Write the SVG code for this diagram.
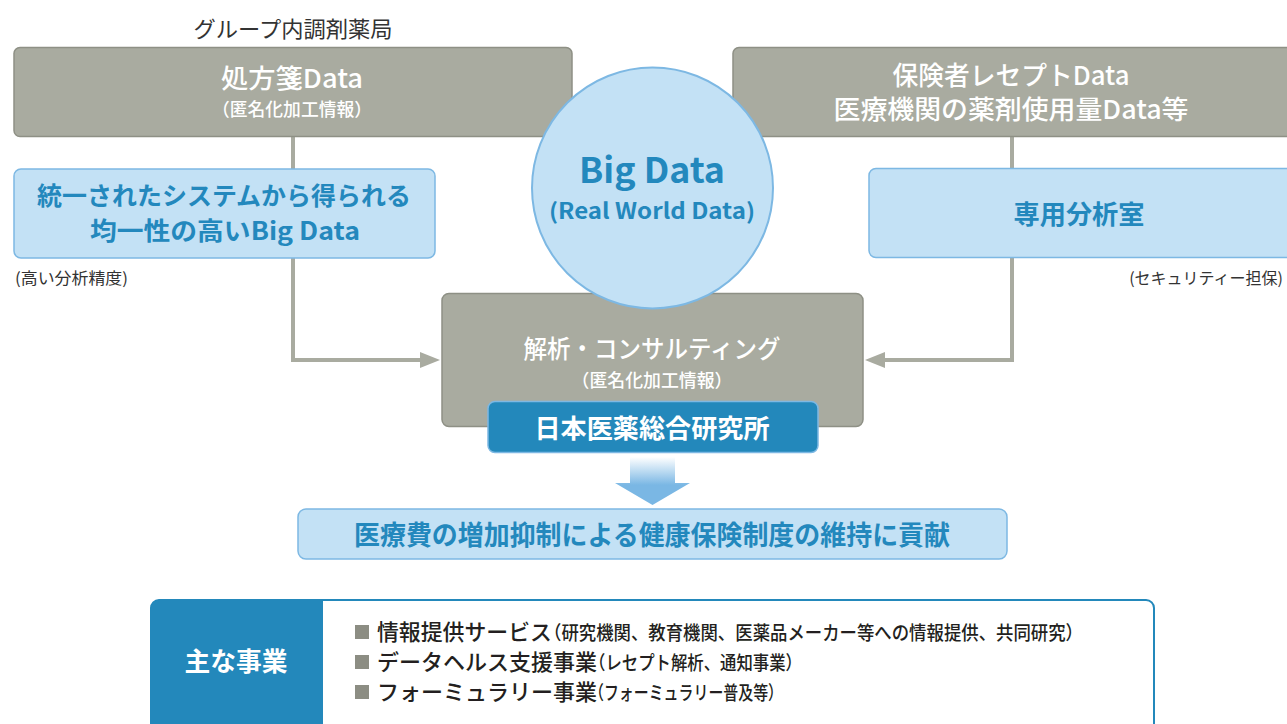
<svg xmlns="http://www.w3.org/2000/svg" width="1287" height="724" viewBox="0 0 1287 724">
<style>
text{font-family:"Noto Sans CJK JP","Noto Sans",sans-serif;}
.gray{fill:#a9aba0;stroke:#8e9085;stroke-width:1.5;}
.lb{fill:#c3e1f5;stroke:#7db8e3;stroke-width:1.5;}
.db{fill:#2388bb;stroke:#7db8e3;stroke-width:1.5;}
.wt{fill:#ffffff;font-weight:500;text-anchor:middle;}
.bt{fill:#2388bd;font-weight:700;text-anchor:middle;}
.note{fill:#333333;font-size:16px;}
.conn{fill:none;stroke:#a9aba0;stroke-width:4;}
.item{fill:#231f20;font-size:22px;font-weight:500;}
.sub{font-size:19px;}
</style>
<defs>
<marker id="ah" viewBox="0 0 20 16" refX="5" refY="8" markerWidth="20" markerHeight="16" markerUnits="userSpaceOnUse" orient="auto">
<path d="M0,0 L20,8 L0,16 Z" fill="#a9aba0"/>
</marker>
<linearGradient id="ag" x1="0" y1="457" x2="0" y2="485" gradientUnits="userSpaceOnUse">
<stop offset="0" stop-color="#ffffff"/>
<stop offset="1" stop-color="#7ab7e4"/>
</linearGradient>
</defs>

<text x="293" y="37" font-size="22" fill="#333333" text-anchor="middle" textLength="199" lengthAdjust="spacingAndGlyphs">グループ内調剤薬局</text>

<g id="connectors">
<path class="conn" d="M293,137 V360 H425" marker-end="url(#ah)"/>
<path class="conn" d="M1012,137 V360 H880" marker-end="url(#ah)"/>
</g>

<g id="rx-data">
<rect class="gray" x="14" y="47.5" width="558" height="89" rx="6"/>
<text class="wt" x="292" y="88" font-size="26" textLength="142" lengthAdjust="spacingAndGlyphs">処方箋Data</text>
<text class="wt" x="292" y="116" font-size="18" textLength="160" lengthAdjust="spacingAndGlyphs">（匿名化加工情報）</text>
</g>

<g id="insurer-data">
<rect class="gray" x="733" y="47.5" width="560" height="89" rx="6"/>
<text class="wt" x="1011" y="85" font-size="26" textLength="237" lengthAdjust="spacingAndGlyphs">保険者レセプトData</text>
<text class="wt" x="1011" y="119" font-size="26" textLength="355" lengthAdjust="spacingAndGlyphs">医療機関の薬剤使用量Data等</text>
</g>

<g id="uniform-bigdata">
<rect class="lb" x="14" y="169" width="421" height="89" rx="7"/>
<text class="bt" x="224" y="205" font-size="25" textLength="374" lengthAdjust="spacingAndGlyphs">統一されたシステムから得られる</text>
<text class="bt" x="225" y="240" font-size="25" textLength="270" lengthAdjust="spacingAndGlyphs">均一性の高いBig Data</text>
</g>
<text class="note" x="15" y="284" textLength="113" lengthAdjust="spacingAndGlyphs">(高い分析精度)</text>

<g id="analysis-room">
<rect class="lb" x="869" y="168.5" width="424" height="89" rx="7"/>
<text class="bt" x="1079" y="224" font-size="26" textLength="131" lengthAdjust="spacingAndGlyphs">専用分析室</text>
</g>
<text class="note" x="1283" y="284" text-anchor="end" font-size="15">(セキュリティー担保)</text>

<g id="analysis">
<rect class="gray" x="442" y="293.5" width="421" height="133" rx="7"/>
<text class="wt" x="652" y="358" font-size="25" textLength="257" lengthAdjust="spacingAndGlyphs">解析・コンサルティング</text>
<text class="wt" x="652" y="387" font-size="18" textLength="161" lengthAdjust="spacingAndGlyphs">（匿名化加工情報）</text>
</g>

<g id="big-data">
<circle cx="652.5" cy="188" r="120.5" fill="#c3e1f5" stroke="#7db8e3" stroke-width="2"/>
<text class="bt" x="652" y="183" font-size="35" textLength="146" lengthAdjust="spacingAndGlyphs">Big Data</text>
<text class="bt" x="652" y="219" font-size="22" font-weight="500" textLength="206" lengthAdjust="spacingAndGlyphs">(Real World Data)</text>
</g>

<g id="institute">
<rect class="db" x="488" y="401.5" width="330" height="51" rx="7"/>
<text x="652" y="438" font-size="26" fill="#ffffff" font-weight="700" text-anchor="middle" textLength="235" lengthAdjust="spacingAndGlyphs">日本医薬総合研究所</text>
</g>

<g id="down-arrow">
<polygon points="630,457 675,457 675,483 690,483 652.5,505 615,483 630,483" fill="url(#ag)"/>
</g>

<g id="contribution">
<rect class="lb" x="298" y="509" width="709" height="50" rx="8"/>
<text class="bt" x="652" y="545" font-size="27" textLength="596" lengthAdjust="spacingAndGlyphs">医療費の増加抑制による健康保険制度の維持に貢献</text>
</g>

<g id="main-business">
<rect x="151" y="600" width="1003" height="140" rx="8" fill="#ffffff" stroke="#2388bb" stroke-width="2"/>
<path d="M159,600 H323 V740 H151 V608 A8,8 0 0 1 159,600 Z" fill="#2388bb"/>
<text x="236" y="671" font-size="26" fill="#ffffff" font-weight="700" text-anchor="middle" textLength="103" lengthAdjust="spacingAndGlyphs">主な事業</text>
<rect x="355" y="625" width="14" height="14" fill="#8c8d83"/>
<rect x="355" y="655" width="14" height="14" fill="#8c8d83"/>
<rect x="355" y="685" width="14" height="14" fill="#8c8d83"/>
<text class="item" x="377" y="640"><tspan textLength="175" lengthAdjust="spacingAndGlyphs">情報提供サービス</tspan><tspan class="sub" x="544" textLength="539" lengthAdjust="spacingAndGlyphs">（研究機関、教育機関、医薬品メーカー等への情報提供、共同研究）</tspan></text>
<text class="item" x="377" y="670"><tspan textLength="220" lengthAdjust="spacingAndGlyphs">データヘルス支援事業</tspan><tspan class="sub" x="589" textLength="213" lengthAdjust="spacingAndGlyphs">（レセプト解析、通知事業）</tspan></text>
<text class="item" x="377" y="700"><tspan textLength="220" lengthAdjust="spacingAndGlyphs">フォーミュラリー事業</tspan><tspan class="sub" x="589" textLength="194" lengthAdjust="spacingAndGlyphs">（フォーミュラリー普及等）</tspan></text>
</g>
</svg>
